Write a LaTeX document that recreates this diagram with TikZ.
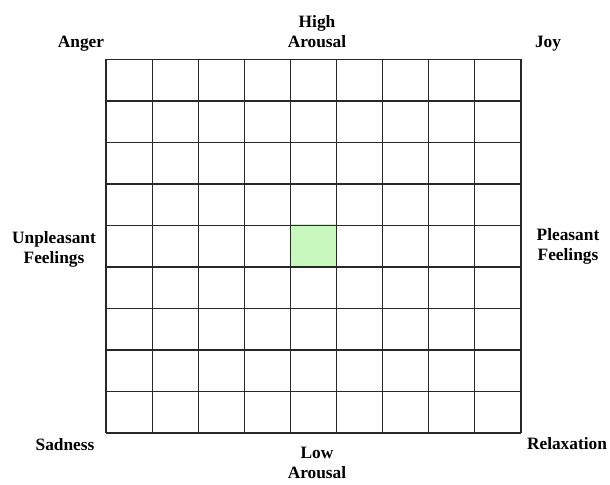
\documentclass[tikz,border=0pt]{standalone}
\usepackage{fontspec}
\setmainfont{Liberation Serif}
\usetikzlibrary{positioning}
\definecolor{mint}{RGB}{200,248,190}
\definecolor{gridline}{RGB}{40,40,40}
\tikzset{
  lbl/.style={font=\fontsize{13}{15}\selectfont\bfseries,align=center,inner sep=0pt},
  cell/.style={draw=gridline,line width=0.9pt},
}
\begin{document}
\begin{tikzpicture}[x=0.75pt,y=-0.75pt]
  \useasboundingbox (0,0) rectangle (610,485);
  % highlighted centre cell
  \fill[mint] (290.4,224) rectangle (336.5,265.5);
  % 9x9 grid
  \foreach \i in {0,...,9}{
    \draw[cell] ({106+\i*46.11},59.5) -- ({106+\i*46.11},433);
    \draw[cell] (106,{59.5+\i*41.5}) -- (521,{59.5+\i*41.5});
  }
  % corners
  \node[lbl,anchor=base] (anger) at (81,48) {Anger};
  \node[lbl,anchor=base] (joy) at (548,48) {Joy};
  \node[lbl,anchor=base] (sadness) at (65,450) {Sadness};
  \node[lbl,anchor=base] (relax) at (567,449) {Relaxation};
  % axes
  \node[lbl,anchor=north] (high) at (317,15) {High\\Arousal};
  \node[lbl,anchor=north] (low) at (317,447) {Low\\Arousal};
  \node[lbl,anchor=north] (unpl) at (54,231) {Unpleasant\\Feelings};
  \node[lbl,anchor=north] (pleas) at (568,228) {Pleasant\\Feelings};
\end{tikzpicture}
\end{document}
